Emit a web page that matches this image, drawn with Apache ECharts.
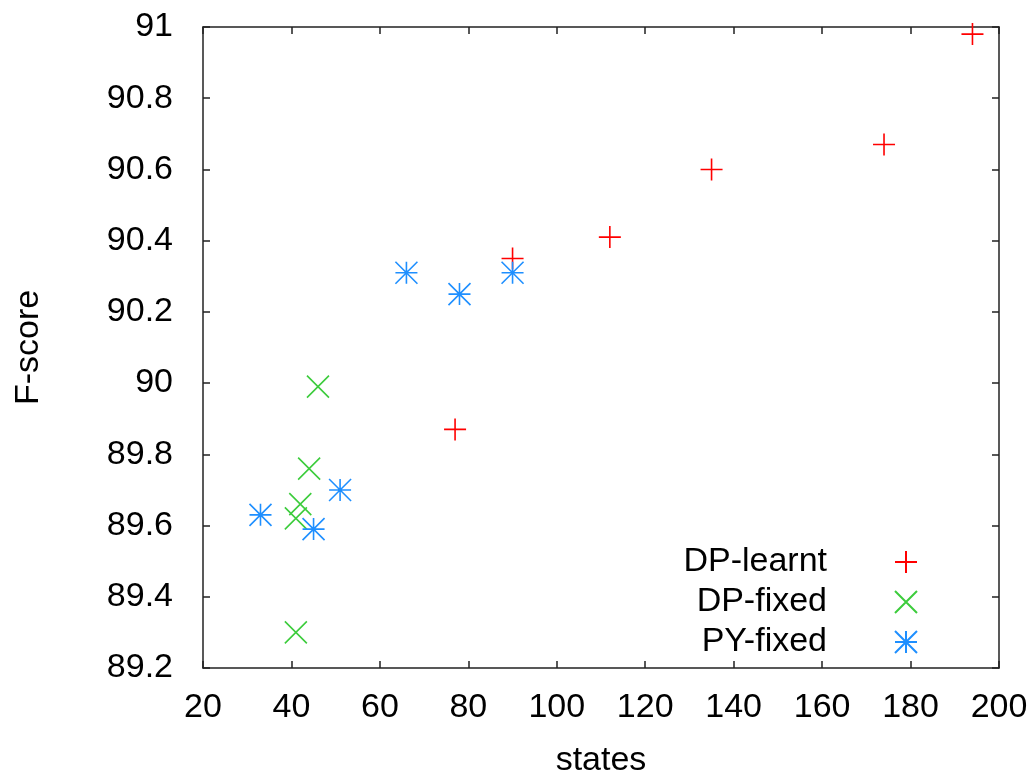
<!DOCTYPE html>
<html>
<head>
<meta charset="utf-8">
<script src="https://cdn.jsdelivr.net/npm/echarts@6/dist/echarts.min.js"></script>
<style>
html,body{margin:0;padding:0;background:#fff;}
#chart{width:1030px;height:779px;}
</style>
</head>
<body>
<div id="chart"></div>
<script>
// ---- data ----
const seriesNames = ['DP-learnt', 'DP-fixed', 'PY-fixed'];
const dpLearntStates = [77, 90, 112, 135, 174, 194];
const dpLearntScore  = [89.87, 90.35, 90.41, 90.60, 90.67, 90.98];
const dpFixedStates  = [46, 44, 42, 41, 41];
const dpFixedScore   = [89.99, 89.76, 89.66, 89.62, 89.30];
const pyFixedStates  = [66, 78, 90, 33, 45, 51];
const pyFixedScore   = [90.31, 90.25, 90.31, 89.63, 89.59, 89.70];
const xTicks = [20, 40, 60, 80, 100, 120, 140, 160, 180, 200];
const yTicks = ['89.2', '89.4', '89.6', '89.8', '90', '90.2', '90.4', '90.6', '90.8', '91'];

function pairs(xs, ys) { return xs.map((x, i) => [x, ys[i]]); }

const FONT = 'Liberation Sans, Arial, sans-serif';
const FS = 34;
const AXIS_COLOR = '#222';

const plusPath = 'path://M0,10 L20,10 M10,0 L10,20';
const crossPath = 'path://M0,0 L20,20 M20,0 L0,20';
const starPath = 'path://M0,10 L20,10 M10,0 L10,20 M0,0 L20,20 M20,0 L0,20 M11.3,10 A1.3,1.3 0 1 1 8.7,10 A1.3,1.3 0 1 1 11.3,10 Z';

const colors = ['#ff0000', '#3ccc3c', '#1e8fff'];
const symbols = [plusPath, crossPath, starPath];
const dataSets = [
  pairs(dpLearntStates, dpLearntScore),
  pairs(dpFixedStates, dpFixedScore),
  pairs(pyFixedStates, pyFixedScore)
];

const xMin = xTicks[0], xMax = xTicks[xTicks.length - 1], xInt = xTicks[1] - xTicks[0];
const yMin = parseFloat(yTicks[0]), yMax = parseFloat(yTicks[yTicks.length - 1]);
const yInt = 0.2;

function yFmt(v) {
  const idx = Math.round((v - yMin) / yInt);
  return yTicks[idx] !== undefined ? yTicks[idx] : '';
}

const baseAxis = {
  axisLine: { show: true, onZero: false, lineStyle: { color: AXIS_COLOR, width: 1.5 } },
  axisTick: { show: true, inside: true, length: 7, lineStyle: { color: AXIS_COLOR, width: 1.5 } },
  splitLine: { show: false }
};

const chart = echarts.init(document.getElementById('chart'), null, { renderer: 'canvas' });
chart.setOption({
  animation: false,
  backgroundColor: '#ffffff',
  grid: { left: 203, right: 31, top: 27, bottom: 111, containLabel: false, outerBoundsMode: 'none' },
  xAxis: [
    Object.assign({}, baseAxis, {
      type: 'value', position: 'bottom', min: xMin, max: xMax, interval: xInt,
      name: 'states', nameLocation: 'middle', nameGap: 76,
      nameTextStyle: { fontFamily: FONT, fontSize: FS, color: '#000' },
      axisLabel: { fontFamily: FONT, fontSize: FS, color: '#000', margin: 23 }
    }),
    Object.assign({}, baseAxis, {
      type: 'value', position: 'top', min: xMin, max: xMax, interval: xInt,
      axisLabel: { show: false }
    })
  ],
  yAxis: [
    Object.assign({}, baseAxis, {
      type: 'value', position: 'left', min: yMin, max: yMax, interval: yInt,
      name: 'F-score', nameLocation: 'middle', nameGap: 157,
      nameTextStyle: { fontFamily: FONT, fontSize: FS, color: '#000' },
      axisLabel: { fontFamily: FONT, fontSize: FS, color: '#000', margin: 30, formatter: yFmt }
    }),
    Object.assign({}, baseAxis, {
      type: 'value', position: 'right', min: yMin, max: yMax, interval: yInt,
      axisLabel: { show: false }
    })
  ],
  legend: {
    orient: 'vertical',
    right: 107,
    top: 540,
    align: 'right',
    itemWidth: 22,
    itemHeight: 22,
    itemGap: 6,
    textStyle: { fontFamily: FONT, fontSize: FS, color: '#000', lineHeight: 34, padding: [0, 63, 0, 0] },
    data: seriesNames
  },
  series: seriesNames.map((name, i) => ({
    name: name,
    type: 'scatter',
    xAxisIndex: 0,
    yAxisIndex: 0,
    symbol: symbols[i],
    symbolSize: 22,
    data: dataSets[i],
    itemStyle: { color: colors[i], borderColor: colors[i], borderWidth: 1.6, opacity: 1 },
    emphasis: { disabled: true }
  }))
});
</script>
</body>
</html>
